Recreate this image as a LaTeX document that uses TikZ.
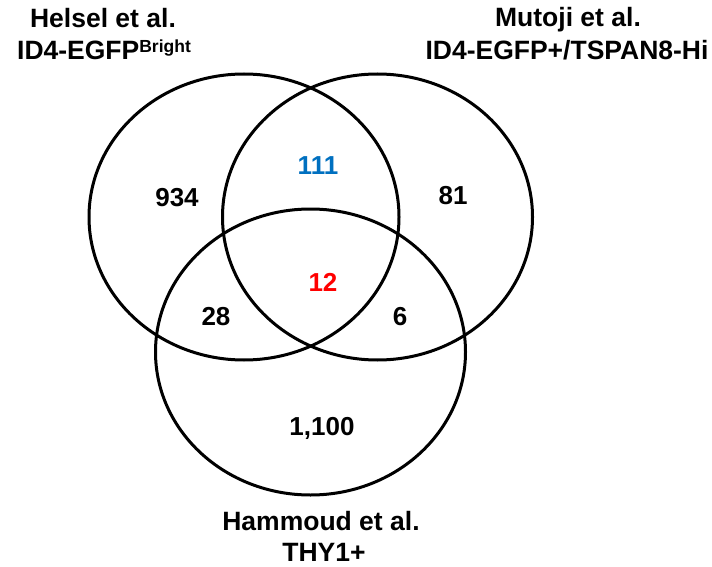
\documentclass[tikz,border=0pt]{standalone}
\usepackage{fontspec}
\setmainfont{Liberation Sans}
\usetikzlibrary{shapes.geometric}
\definecolor{numblue}{RGB}{0,112,192}
\definecolor{numred}{RGB}{255,0,0}
\begin{document}
\begin{tikzpicture}[x=1pt,y=-1pt,
  setshape/.style={ellipse,draw=black,line width=3pt,minimum width=310pt,minimum height=286pt,inner sep=0pt},
  lbl/.style={anchor=base,inner sep=0pt,font=\fontsize{26.5}{30}\selectfont\bfseries},
  num/.style={anchor=base,inner sep=0pt,font=\fontsize{26}{30}\selectfont\bfseries}]
\useasboundingbox (0,0) rectangle (712,567);
\fill[white] (0,0) rectangle (712,567);
\node[setshape] (helsel) at (244,217) {};
\node[setshape] (mutoji) at (377.5,217) {};
\node[setshape] (hammoud) at (310.5,352) {};
% titles
\node[lbl] (t1a) at (103,28) {Helsel et al.};
\node[lbl] (t1b) at (104,60) {ID4-EGFP\raisebox{7.5pt}{\fontsize{17.5}{20}\selectfont Bright}};
\node[lbl] (t2a) at (568,27) {Mutoji et al.};
\node[lbl] (t2b) at (567,60) {ID4-EGFP+/TSPAN8-Hi};
\node[lbl] (t3a) at (321,530) {Hammoud et al.};
\node[lbl] (t3b) at (324,561) {THY1+};
% counts
\node[num] (n934) at (177,206) {934};
\node[num] (n111) at (318,175) {\textcolor{numblue}{111}};
\node[num] (n81) at (453,204) {81};
\node[num] (n12) at (323,291) {\textcolor{numred}{12}};
\node[num] (n28) at (216,325) {28};
\node[num] (n6) at (400,325) {6};
\node[num] (n1100) at (322,435) {1,100};
\end{tikzpicture}
\end{document}
